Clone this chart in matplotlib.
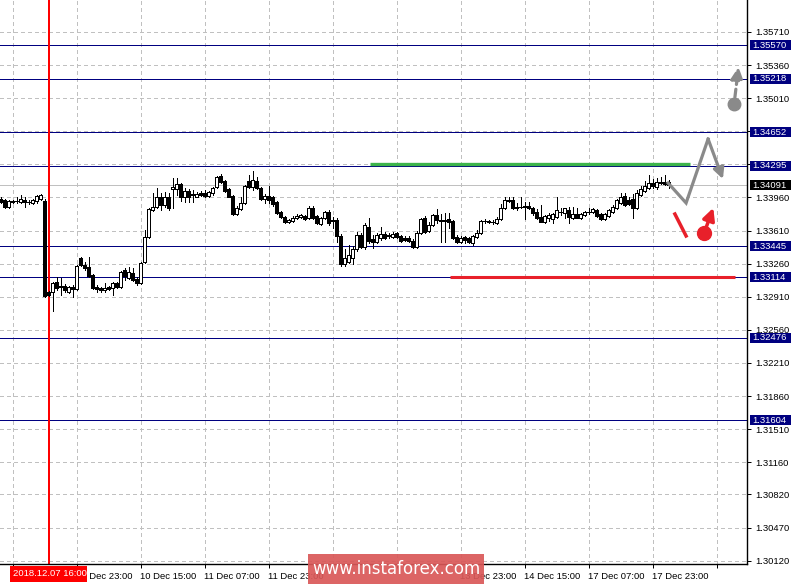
import matplotlib
matplotlib.use('Agg')
import matplotlib.pyplot as plt
from matplotlib.patches import Rectangle
import numpy as np

plt.rcParams['font.family'] = ['Liberation Sans', 'DejaVu Sans']

# ---------------- data (H1 candles) ----------------
opens = [
1.3394,1.3393,1.3386,1.3391,1.3392,1.3391,1.3393,1.3391,1.3390,1.3392,
1.3394,1.3392,1.3296,1.3296,1.3307,1.3301,1.3302,1.3296,1.3301,1.3299,
1.3332,1.3325,1.3322,1.3314,1.3301,1.3300,1.3298,1.3301,1.3300,1.3306,
1.3301,1.3319,1.3311,1.3316,1.3310,1.3306,1.3328,1.3354,1.3383,1.3386,
1.3397,1.3388,1.3397,1.3405,1.3405,1.3410,1.3397,1.3403,1.3400,1.3397,
1.3401,1.3401,1.3398,1.3401,1.3407,1.3419,1.3413,1.3405,1.3398,1.3379,
1.3384,1.3390,1.3413,1.3407,1.3413,1.3406,1.3394,1.3398,1.3396,1.3391,
1.3381,1.3375,1.3370,1.3371,1.3374,1.3375,1.3376,1.3374,1.3385,1.3376,
1.3368,1.3374,1.3381,1.3372,1.3372,1.3355,1.3326,1.3328,1.3332,1.3341,
1.3356,1.3344,1.3365,1.3352,1.3349,1.3353,1.3357,1.3356,1.3354,1.3358,
1.3355,1.3353,1.3353,1.3350,1.3344,1.3358,1.3374,1.3361,1.3367,1.3378,
1.3372,1.3371,1.3373,1.3371,1.3354,1.3349,1.3354,1.3353,1.3348,1.3354,
1.3358,1.3371,1.3371,1.3370,1.3369,1.3373,1.3385,1.3393,1.3393,1.3386,
1.3386,1.3386,1.3387,1.3385,1.3381,1.3375,1.3370,1.3374,1.3373,1.3375,
1.3381,1.3380,1.3383,1.3374,1.3379,1.3374,1.3378,1.3381,1.3381,1.3383,
1.3379,1.3373,1.3376,1.3381,1.3385,1.3390,1.3398,1.3393,1.3394,1.3385,
1.3399,1.3403,1.3406,1.3411,1.3407,1.3411,1.3412,1.3412]
highs = [
1.3396,1.3394,1.3393,1.3393,1.3396,1.3399,1.3396,1.3393,1.3394,1.3399,
1.3400,1.3394,1.3297,1.3307,1.3312,1.3311,1.3305,1.3302,1.3303,1.3325,
1.3333,1.3328,1.3333,1.3315,1.3303,1.3301,1.3306,1.3302,1.3307,1.3307,
1.3318,1.3321,1.3322,1.3321,1.3312,1.3328,1.3362,1.3385,1.3401,1.3406,
1.3401,1.3402,1.3401,1.3417,1.3417,1.3411,1.3406,1.3405,1.3404,1.3402,
1.3403,1.3404,1.3403,1.3407,1.3419,1.3421,1.3415,1.3406,1.3399,1.3387,
1.3396,1.3409,1.3420,1.3424,1.3418,1.3407,1.3400,1.3408,1.3398,1.3392,
1.3382,1.3376,1.3373,1.3376,1.3379,1.3379,1.3378,1.3387,1.3387,1.3378,
1.3375,1.3382,1.3383,1.3375,1.3374,1.3357,1.3341,1.3346,1.3345,1.3360,
1.3358,1.3369,1.3374,1.3356,1.3358,1.3365,1.3360,1.3358,1.3360,1.3360,
1.3356,1.3355,1.3355,1.3352,1.3361,1.3374,1.3376,1.3370,1.3379,1.3384,
1.3379,1.3380,1.3380,1.3372,1.3356,1.3355,1.3355,1.3354,1.3356,1.3362,
1.3372,1.3373,1.3372,1.3372,1.3375,1.3389,1.3396,1.3396,1.3396,1.3390,
1.3396,1.3391,1.3391,1.3386,1.3384,1.3388,1.3378,1.3380,1.3380,1.3396,
1.3385,1.3385,1.3386,1.3386,1.3385,1.3380,1.3382,1.3385,1.3385,1.3384,
1.3380,1.3380,1.3384,1.3388,1.3394,1.3401,1.3401,1.3396,1.3400,1.3404,
1.3408,1.3413,1.3420,1.3416,1.3417,1.3418,1.3420,1.3415]
lows = [
1.3390,1.3385,1.3385,1.3390,1.3390,1.3390,1.3386,1.3389,1.3389,1.3390,
1.3393,1.3291,1.3292,1.3276,1.3298,1.3293,1.3296,1.3295,1.3291,1.3298,
1.3324,1.3319,1.3312,1.3299,1.3296,1.3296,1.3296,1.3298,1.3293,1.3300,
1.3300,1.3309,1.3310,1.3308,1.3303,1.3305,1.3327,1.3353,1.3382,1.3385,
1.3383,1.3386,1.3383,1.3385,1.3399,1.3392,1.3391,1.3391,1.3391,1.3396,
1.3398,1.3397,1.3397,1.3399,1.3406,1.3411,1.3402,1.3396,1.3378,1.3378,
1.3383,1.3389,1.3406,1.3404,1.3405,1.3393,1.3390,1.3390,1.3387,1.3379,
1.3374,1.3369,1.3369,1.3370,1.3373,1.3374,1.3372,1.3373,1.3373,1.3368,
1.3367,1.3373,1.3367,1.3364,1.3349,1.3324,1.3324,1.3327,1.3326,1.3339,
1.3343,1.3341,1.3348,1.3343,1.3348,1.3351,1.3352,1.3353,1.3353,1.3353,
1.3349,1.3350,1.3349,1.3343,1.3343,1.3357,1.3358,1.3360,1.3366,1.3369,
1.3349,1.3349,1.3364,1.3352,1.3348,1.3348,1.3348,1.3348,1.3346,1.3353,
1.3357,1.3369,1.3369,1.3368,1.3368,1.3372,1.3384,1.3391,1.3384,1.3383,
1.3385,1.3373,1.3384,1.3378,1.3373,1.3370,1.3369,1.3371,1.3369,1.3374,
1.3378,1.3374,1.3369,1.3373,1.3374,1.3373,1.3376,1.3379,1.3380,1.3375,
1.3372,1.3372,1.3375,1.3380,1.3384,1.3389,1.3387,1.3388,1.3374,1.3384,
1.3398,1.3402,1.3405,1.3406,1.3405,1.3410,1.3409,1.3406]
closes = [
1.3391,1.3386,1.3392,1.3392,1.3392,1.3394,1.3391,1.3391,1.3393,1.3398,
1.3399,1.3292,1.3293,1.3306,1.3300,1.3302,1.3298,1.3301,1.3299,1.3324,
1.3325,1.3321,1.3313,1.3300,1.3299,1.3298,1.3300,1.3299,1.3306,1.3301,
1.3317,1.3313,1.3317,1.3309,1.3306,1.3327,1.3354,1.3384,1.3386,1.3397,
1.3388,1.3397,1.3385,1.3407,1.3410,1.3397,1.3403,1.3396,1.3399,1.3400,
1.3399,1.3398,1.3402,1.3406,1.3418,1.3412,1.3403,1.3397,1.3379,1.3385,
1.3390,1.3408,1.3407,1.3415,1.3406,1.3394,1.3398,1.3393,1.3389,1.3380,
1.3375,1.3370,1.3372,1.3374,1.3376,1.3378,1.3373,1.3385,1.3374,1.3369,
1.3374,1.3381,1.3369,1.3371,1.3355,1.3326,1.3332,1.3335,1.3341,1.3356,
1.3344,1.3367,1.3350,1.3349,1.3356,1.3357,1.3353,1.3355,1.3357,1.3354,
1.3350,1.3351,1.3350,1.3344,1.3358,1.3373,1.3360,1.3367,1.3378,1.3372,
1.3371,1.3372,1.3370,1.3353,1.3349,1.3353,1.3351,1.3349,1.3355,1.3358,
1.3371,1.3371,1.3370,1.3370,1.3373,1.3385,1.3393,1.3392,1.3385,1.3385,
1.3386,1.3387,1.3385,1.3380,1.3374,1.3370,1.3376,1.3378,1.3379,1.3383,
1.3381,1.3385,1.3375,1.3379,1.3374,1.3379,1.3381,1.3381,1.3384,1.3376,
1.3373,1.3379,1.3383,1.3386,1.3393,1.3397,1.3388,1.3389,1.3385,1.3401,
1.3405,1.3408,1.3411,1.3408,1.3412,1.3412,1.3410,1.3409]

price_ticks = [1.35710, 1.35360, 1.35010, 1.34660, 1.34310, 1.33960, 1.33610,
               1.33260, 1.32910, 1.32560, 1.32210, 1.31860, 1.31510, 1.31160,
               1.30820, 1.30470, 1.30120]
# tick labels fully hidden behind level boxes in the reference are left blank
price_tick_labels = ['1.35710', '1.35360', '1.35010', '', '', '1.33960', '1.33610',
                     '1.33260', '1.32910', '1.32560', '1.32210', '1.31860', '1.31510',
                     '1.31160', '1.30820', '1.30470', '1.30120']
time_tick_bars = [3, 19, 35, 51, 67, 83, 99, 115, 131, 147, 163, 179]
# labels fully hidden behind the date box / watermark in the reference are blank
time_tick_labels = ['', '07 Dec 23:00', '10 Dec 15:00', '11 Dec 07:00',
                    '11 Dec 23:00', '', '', '13 Dec 23:00',
                    '14 Dec 15:00', '17 Dec 07:00', '17 Dec 23:00', '']
levels = [1.35570, 1.35218, 1.34652, 1.34295, 1.33445, 1.33114, 1.32476, 1.31604]
bid_price = 1.34091
marker_bar = 12
marker_label = '2018.12.07 16:00'
green_level = (1.3431, 92.4, 172.4)
red_level = (1.33122, 112.4, 183.6)

# forecast arrows (bar index, price)
gray_path_x = [166.9, 171.4, 176.9]
gray_path_y = [1.34113, 1.33902, 1.34578]
gray_tip = (180.6, 1.34155)
gray_dot = (183.4, 1.34948)
gray_dash_tip = (184.5, 1.35340)
red_seg_x = [168.6, 171.4]
red_seg_y = [1.33785, 1.33553]
red_dot = (175.9, 1.33584)
red_tip = (178.2, 1.33850)

# ---------------- figure ----------------
W, H = 791, 584
fig = plt.figure(figsize=(W / 100, H / 100), dpi=100)
fig.patch.set_facecolor('white')
plot_w, plot_h = 747, 563.5
ax = fig.add_axes([0, (H - plot_h) / H, plot_w / W, plot_h / H])
ax.set_facecolor('white')
ax.set_xlim(-0.125, 186.625)
ax.set_ylim(1.30090, 1.36048)

PX = 0.72  # one pixel in points
grid_kw = dict(color='#c0c0c0', lw=PX, ls=(0, (3, 3)), zorder=0, antialiased=False)
for t in price_ticks:
    ax.axhline(t, **grid_kw)
for t in time_tick_bars:
    ax.axvline(t, **grid_kw)

ax.axhline(bid_price, color='#c0c0c0', lw=PX, zorder=1, antialiased=False)
NAVY = '#000080'
for lv in levels:
    ax.axhline(lv, color=NAVY, lw=PX, zorder=2, antialiased=False)
# 2-px red marker line, aligned to the pixel grid
ax.axvline(marker_bar + 0.125, color='#ff0000', lw=2 * PX, zorder=2.5)

# candles
o = np.array(opens); h = np.array(highs); l = np.array(lows); c = np.array(closes)
x = np.arange(len(o))
ax.vlines(x, l, h, color='black', lw=PX, zorder=3, antialiased=False)
up = c > o
bottom = np.minimum(o, c)
height = np.abs(c - o)
ax.bar(x, height, bottom=bottom, width=0.55,
       color=np.where(up, 'white', 'black'), edgecolor='black', linewidth=PX,
       antialiased=False, zorder=4)

# support / resistance segments
ax.hlines(green_level[0], green_level[1], green_level[2], color='#3cb44b', lw=2.4, zorder=5)
ax.hlines(red_level[0], red_level[1], red_level[2], color='#e8202a', lw=2.2, zorder=5)

# forecast arrows
GRAY = '#8a8a8a'
RED = '#e8202a'
ax.plot(gray_path_x, gray_path_y, color=GRAY, lw=2.3, zorder=6, solid_joinstyle='miter')
ax.annotate('', xy=gray_tip, xytext=(gray_path_x[-1], gray_path_y[-1]),
            arrowprops=dict(arrowstyle='-|>', color=GRAY, lw=2.3, mutation_scale=16,
                            shrinkA=0, shrinkB=0), zorder=6)
ax.plot(*gray_dot, 'o', ms=9, color=GRAY, zorder=6)
ax.annotate('', xy=gray_dash_tip, xytext=gray_dot,
            arrowprops=dict(arrowstyle='-|>', color=GRAY, lw=2.3, ls=(0, (2.5, 1.5)),
                            mutation_scale=18, shrinkA=5, shrinkB=0), zorder=6)
ax.plot(red_seg_x, red_seg_y, color=RED, lw=2.5, zorder=6)
ax.plot(*red_dot, 'o', ms=10, color=RED, zorder=6)
ax.annotate('', xy=red_tip, xytext=red_dot,
            arrowprops=dict(arrowstyle='-|>', color=RED, lw=2.5, mutation_scale=18,
                            shrinkA=3, shrinkB=0), zorder=6)

# axes styling
for s in ['left', 'top']:
    ax.spines[s].set_visible(False)
for s in ['right', 'bottom']:
    ax.spines[s].set_linewidth(1.0)
    ax.spines[s].set_color('black')
ax.yaxis.tick_right()
ax.set_yticks(price_ticks)
ax.set_yticklabels(price_tick_labels)
ax.tick_params(axis='y', direction='out', length=3, width=PX, pad=3,
               labelsize=6.8, colors='black')
ax.set_xticks(time_tick_bars)
ax.set_xticklabels(time_tick_labels, ha='left')
ax.tick_params(axis='x', direction='out', length=3, width=PX, pad=3,
               labelsize=6.8, colors='black')

# price labels on the right axis
px_price = (1.36048 - 1.30090) / plot_h
box_h = 10 * px_price
bx0 = 1 + 2.5 / plot_w
bw = 41 / plot_w
tr = ax.get_yaxis_transform()
for lv in levels:
    ax.add_patch(Rectangle((bx0, lv - box_h / 2), bw, box_h, transform=tr,
                           facecolor=NAVY, edgecolor='none', clip_on=False, zorder=10))
    ax.text(1 + 5 / plot_w, lv, f'{lv:.5f}', transform=tr, color='white', fontsize=6.8,
            va='center', ha='left', clip_on=False, zorder=11)
ax.add_patch(Rectangle((bx0, bid_price - box_h / 2), bw, box_h, transform=tr,
                       facecolor='black', edgecolor='none', clip_on=False, zorder=10))
ax.text(1 + 5 / plot_w, bid_price, f'{bid_price:.5f}', transform=tr, color='white',
        fontsize=6.8, va='center', ha='left', clip_on=False, zorder=11)

# date marker label
fig.patches.append(Rectangle((10 / W, (H - 582) / H), 77 / W, 16 / H,
                             transform=fig.transFigure, facecolor='#ff0000',
                             edgecolor='none', zorder=10))
fig.text(13 / W, (H - 574) / H, marker_label, color='white', fontsize=6.8,
         va='center', ha='left', zorder=11)

# watermark
fig.patches.append(Rectangle((308 / W, 0), 176 / W, 30 / H, transform=fig.transFigure,
                             facecolor='#d95858', alpha=0.92, edgecolor='none', zorder=12))
fig.text(396 / W, 15 / H, 'www.instaforex.com', color='white', fontsize=12,
         family='DejaVu Sans', va='center', ha='center', zorder=13)

fig.savefig('out.png', dpi=100)
